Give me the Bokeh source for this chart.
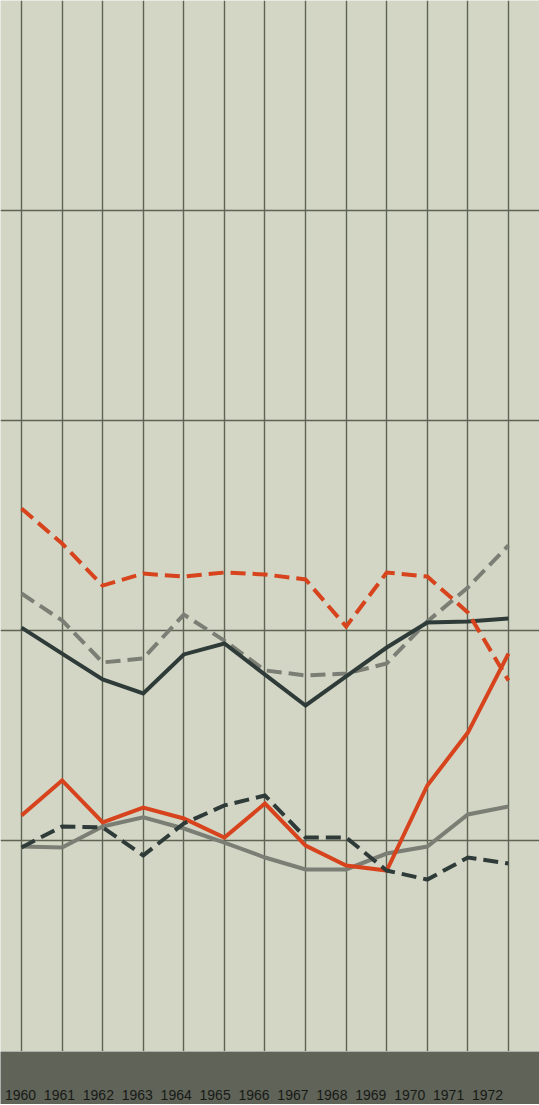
from bokeh.plotting import figure
from bokeh.models import Range1d, Grid, FixedTicker
from bokeh.layouts import column
from bokeh.embed import file_html
from bokeh.resources import INLINE
from bokeh.core.properties import value

# ---- data (index values; grid lines at 100, 200, 300, 400) ----
years = list(range(1960, 1973))
year_labels = [str(y) for y in years]

red_dashed = [258.1, 241.4, 221.4, 227.1, 225.7, 227.6, 226.7, 224.3, 201.9, 227.6, 225.7, 208.6, 176.2]
grey_dashed = [217.6, 204.8, 184.8, 186.7, 207.6, 195.2, 181.0, 178.6, 179.5, 184.3, 204.3, 220.5, 240.5]
dark_solid = [201.4, 189.0, 176.7, 170.0, 188.6, 193.8, 179.0, 164.3, 178.1, 191.9, 203.8, 204.3, 205.7]
red_solid = [111.9, 128.6, 108.6, 115.7, 110.5, 101.4, 117.6, 97.6, 88.1, 85.7, 126.2, 151.4, 189.0]
dark_dashed = [96.7, 106.7, 106.2, 92.9, 108.1, 116.7, 121.4, 101.4, 101.4, 85.7, 81.4, 91.9, 89.0]
grey_solid = [97.1, 96.7, 106.7, 111.0, 105.7, 99.0, 91.9, 86.2, 86.2, 93.8, 97.1, 112.4, 116.2]
h_grid = [100, 200, 300, 400]

BG = "#d3d6c5"
GRID = "#5f6354"
RED = "#d6431c"
DARK = "#2f3b39"
GREY = "#7b7e74"
BAND = "#5f6358"

# ---- main chart ----
p = figure(width=539, height=1051, output_backend="svg", toolbar_location=None,
           x_range=Range1d(1959.4825, 1972.765), y_range=Range1d(-0.476, 500.0),
           x_axis_location=None, y_axis_location=None, min_border=0)
p.background_fill_color = BG
p.border_fill_color = BG
p.outline_line_color = None
p.grid.visible = False

vgrid = Grid(dimension=0, ticker=FixedTicker(ticks=years), grid_line_color=GRID, grid_line_width=1.4)
hgrid = Grid(dimension=1, ticker=FixedTicker(ticks=h_grid), grid_line_color=GRID, grid_line_width=1.4)
p.add_layout(vgrid)
p.add_layout(hgrid)

W = 4
DASH = "15 7"
p.line(years, grey_solid, line_color=GREY, line_width=W, line_join="miter")
p.line(years, grey_dashed, line_color=GREY, line_width=W, line_dash=DASH, line_join="miter")
p.line(years, dark_solid, line_color=DARK, line_width=W, line_join="miter")
p.line(years, red_dashed, line_color=RED, line_width=W, line_dash=DASH, line_join="miter")
p.line(years, red_solid, line_color=RED, line_width=W, line_join="miter")
p.line(years, dark_dashed, line_color=DARK, line_width=W, line_dash=DASH, line_join="miter")

# ---- bottom band with year labels ----
b = figure(width=539, height=53, output_backend="svg", toolbar_location=None,
           x_range=Range1d(1959.4861, 1973.335), y_range=Range1d(0, 53),
           x_axis_location=None, y_axis_location=None, min_border=0)
b.background_fill_color = BAND
b.border_fill_color = BAND
b.outline_line_color = None
b.grid.visible = False
b.text(x=years, y=[10] * len(years), text=year_labels,
       text_font=value("Liberation Sans"), text_font_size="14px",
       text_align="center", text_baseline="middle", text_color="#171a17")

layout = column(p, b, spacing=0)
open("out.html", "w").write(file_html(layout, INLINE))
